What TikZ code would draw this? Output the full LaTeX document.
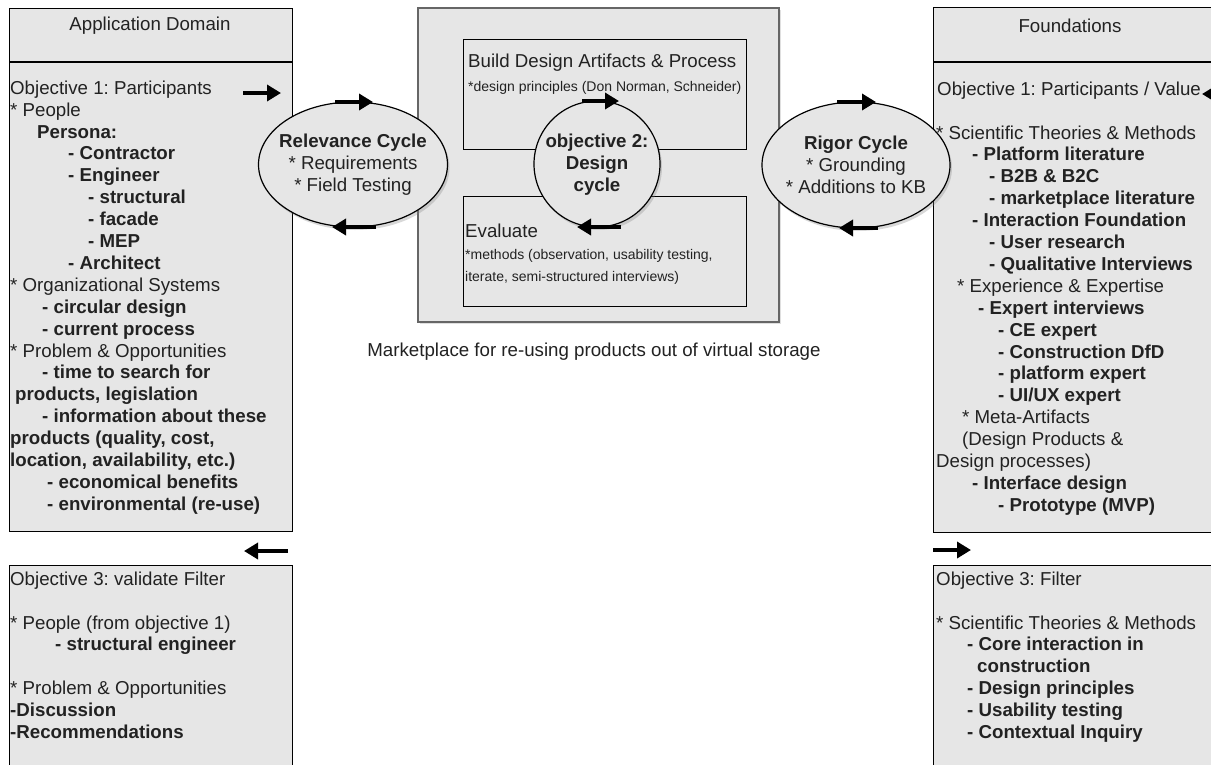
\documentclass[tikz,border=0pt]{standalone}
\usepackage{fontspec}
\setmainfont{Liberation Sans}
\usetikzlibrary{arrows.meta,shapes.geometric,shadows}

\definecolor{panel}{HTML}{E6E6E6}
\definecolor{ink}{HTML}{222222}
\definecolor{frame}{HTML}{666666}

\frenchspacing
\newcommand\bigtext{\fontsize{18.7}{21.9}\selectfont}
\newcommand\smalltext{\fontsize{14}{22}\selectfont}
\newcommand\ind[1]{\hspace*{#1pt}}
\newcommand\firstline{\rule{0pt}{15pt}}

\begin{document}
\begin{tikzpicture}[x=1pt,y=-1pt,
  box/.style={draw=black, line width=1.3pt, fill=panel, anchor=north west, inner sep=0pt},
  outerbox/.style={draw=frame, line width=2pt, fill=panel, anchor=north west, inner sep=0pt,
    drop shadow={opacity=0.25, shadow xshift=2pt, shadow yshift=-2pt}},
  txt/.style={inner sep=0pt, text=ink, font=\bigtext, align=left, anchor=north west},
  line/.style={inner sep=0pt, text=ink, font=\bigtext, anchor=base west},
  small/.style={inner sep=0pt, text=ink, font=\smalltext, anchor=base west},
  bubble/.style={draw=black, line width=1.2pt, fill=panel, inner sep=0pt,
    drop shadow={opacity=0.3, shadow xshift=2pt, shadow yshift=-3pt}},
  bubbletext/.style={inner sep=0pt, text=ink, font=\bigtext, align=center},
  flow/.style={draw=black, line width=4.5pt, -{Triangle[length=14pt,width=16pt]}}
]
\useasboundingbox (0,0) rectangle (1211,764);
\fill[white] (0,0) rectangle (1211,764);
\clip (0,0) rectangle (1211,764);

% ---------------- central design cycle block ----------------
\node[outerbox, minimum width=361pt, minimum height=314pt] (center) at (417,7) {};
\node[box, minimum width=283pt, minimum height=110pt] (build) at (463,39) {};
\node[box, minimum width=283pt, minimum height=110pt] (evaluate) at (463,196) {};
\node[line] (buildtitle) at (468,67) {Build Design Artifacts \& Process};
\node[small] (buildnote) at (468,91) {*design principles (Don Norman, Schneider)};
\node[line] (evaltitle) at (465,237) {Evaluate};
\node[txt, font=\smalltext] (evalnote) at (465,248)
  {\rule{0pt}{11pt}*methods (observation, usability testing,\\iterate, semi-structured interviews)};
\node[line, anchor=base] (caption) at (594,356)
  {Marketplace for re-using products out of virtual storage};

% ---------------- application domain ----------------
\node[box, minimum width=283pt, minimum height=523pt] (appdomain) at (9,8) {};
\coordinate (appcut) at (0,62);
\draw[line width=2pt] (appdomain.west |- appcut) -- (appdomain.east |- appcut);
\node[line, anchor=base] (apphead) at (150,30) {Application Domain};
\node[txt] (apptext) at (10,79) {\firstline Objective 1: Participants\\
* People\\
\ind{27}\textbf{Persona:}\\
\ind{58}\textbf{- Contractor}\\
\ind{58}\textbf{- Engineer}\\
\ind{78}\textbf{- structural}\\
\ind{78}\textbf{- facade}\\
\ind{78}\textbf{- MEP}\\
\ind{58}\textbf{- Architect}\\
* Organizational Systems\\
\ind{32}\textbf{- circular design}\\
\ind{32}\textbf{- current process}\\
* Problem \& Opportunities\\
\ind{32}\textbf{- time to search for}\\
\ind{5}\textbf{products, legislation}\\
\ind{32}\textbf{- information about these}\\
\textbf{products (quality, cost,}\\
\textbf{location, availability, etc.)}\\
\ind{37}\textbf{- economical benefits}\\
\ind{37}\textbf{- environmental (re-use)}};

\node[box, minimum width=283pt, minimum height=240pt] (appvalidate) at (9,565) {};
\node[txt] (appvaltext) at (10,570) {\firstline Objective 3: validate Filter\\[21.9pt]
* People (from objective 1)\\
\ind{45}\textbf{- structural engineer}\\[21.9pt]
* Problem \& Opportunities\\
\textbf{-Discussion}\\
\textbf{-Recommendations}};

% ---------------- foundations ----------------
\node[box, minimum width=300pt, minimum height=525pt] (found) at (933,7) {};
\coordinate (foundcut) at (0,62);
\draw[line width=2pt] (found.west |- foundcut) -- (found.east |- foundcut);
\node[line, anchor=base] (foundhead) at (1070,32) {Foundations};
\node[txt] (foundtext) at (936,80) {\firstline \ind{1}Objective 1: Participants / Value\\[21.9pt]
* Scientific Theories \& Methods\\
\ind{36}\textbf{- Platform literature}\\
\ind{53}\textbf{- B2B \& B2C}\\
\ind{53}\textbf{- marketplace literature}\\
\ind{36}\textbf{- Interaction Foundation}\\
\ind{53}\textbf{- User research}\\
\ind{53}\textbf{- Qualitative Interviews}\\
\ind{21}* Experience \& Expertise\\
\ind{42}\textbf{- Expert interviews}\\
\ind{62}\textbf{- CE expert}\\
\ind{62}\textbf{- Construction DfD}\\
\ind{62}\textbf{- platform expert}\\
\ind{62}\textbf{- UI/UX expert}\\
\ind{26}* Meta-Artifacts\\
\ind{26}(Design Products \&\\
Design processes)\\
\ind{36}\textbf{- Interface design}\\
\ind{62}\textbf{- Prototype (MVP)}};

\node[box, minimum width=300pt, minimum height=240pt] (foundfilter) at (933,565) {};
\node[txt] (foundfiltertext) at (936,570) {\firstline Objective 3: Filter\\[21.9pt]
* Scientific Theories \& Methods\\
\ind{31}\textbf{- Core interaction in}\\
\ind{41}\textbf{construction}\\
\ind{31}\textbf{- Design principles}\\
\ind{31}\textbf{- Usability testing}\\
\ind{31}\textbf{- Contextual Inquiry}};

% ---------------- cycles ----------------
\node[bubble, ellipse, minimum width=189pt, minimum height=125pt] (relevance) at (353,164.5) {};
\node[bubbletext] (relevancetext) at (relevance.center)
  {\textbf{Relevance Cycle}\\* Requirements\\* Field Testing};

\node[bubble, circle, minimum size=126pt] (design) at (597,164) {};
\node[bubbletext] (designtext) at ([yshift=-1pt]design.center)
  {\textbf{objective 2:}\\\textbf{Design}\\\textbf{cycle}};

\node[bubble, ellipse, minimum width=188pt, minimum height=126pt] (rigor) at (856,165) {};
\node[bubbletext] (rigortext) at (rigor.center)
  {\textbf{Rigor Cycle}\\* Grounding\\* Additions to KB};

% ---------------- flow arrows ----------------
\coordinate (appout-s) at (243,93);   \coordinate (appout-e) at (281,93);
\coordinate (reltop-s) at (335,102);  \coordinate (reltop-e) at (373,102);
\coordinate (relbot-s) at (376,227);  \coordinate (relbot-e) at (332,227);
\coordinate (destop-s) at (582,101);  \coordinate (destop-e) at (619,101);
\coordinate (desbot-s) at (621,227);  \coordinate (desbot-e) at (577,227);
\coordinate (rigtop-s) at (837,102);  \coordinate (rigtop-e) at (876,102);
\coordinate (rigbot-s) at (878,228);  \coordinate (rigbot-e) at (839,228);
\coordinate (foundin-s) at (1225,94); \coordinate (foundin-e) at (1202,94);
\coordinate (valin-s) at (288,551);   \coordinate (valin-e) at (244,551);
\coordinate (filtout-s) at (933,550); \coordinate (filtout-e) at (971,550);

\draw[flow] (appout-s) -- (appout-e);
\draw[flow] (reltop-s) -- (reltop-e);
\draw[flow] (relbot-s) -- (relbot-e);
\draw[flow] (destop-s) -- (destop-e);
\draw[flow] (desbot-s) -- (desbot-e);
\draw[flow] (rigtop-s) -- (rigtop-e);
\draw[flow] (rigbot-s) -- (rigbot-e);
\draw[flow] (foundin-s) -- (foundin-e);
\draw[flow] (valin-s) -- (valin-e);
\draw[flow] (filtout-s) -- (filtout-e);
\end{tikzpicture}
\end{document}
